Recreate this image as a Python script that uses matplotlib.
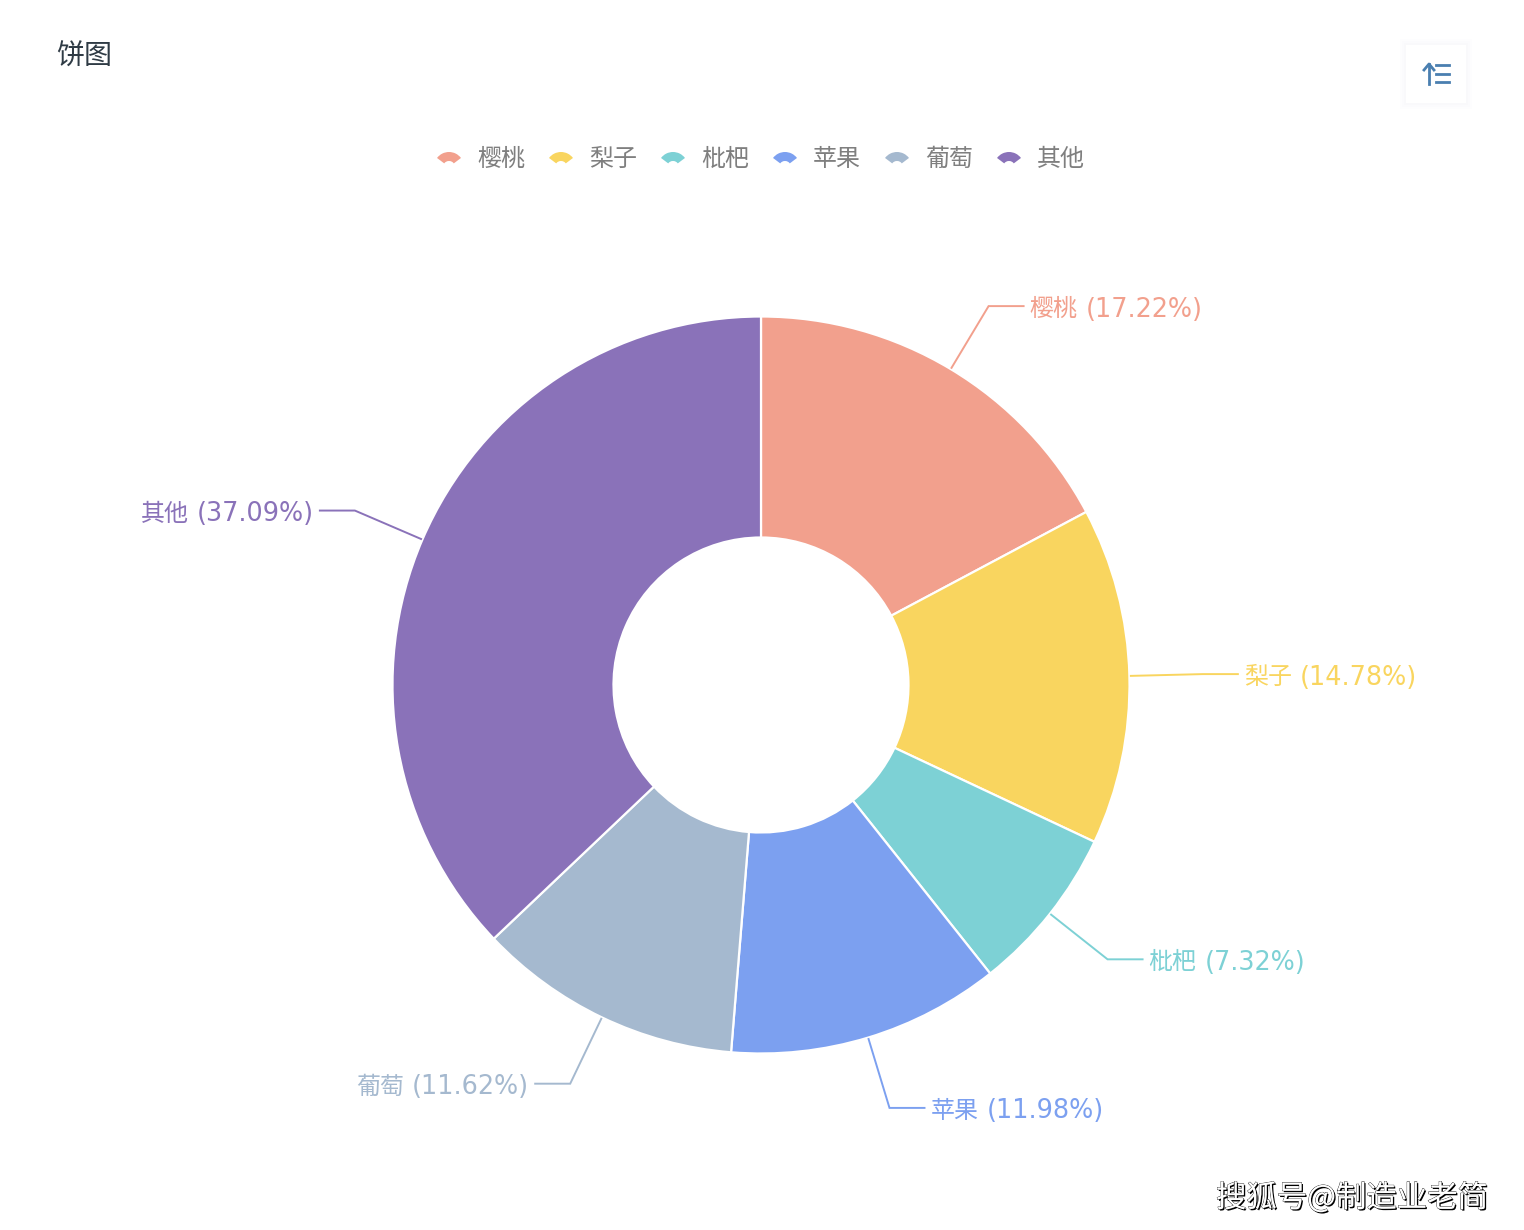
import numpy as np
import matplotlib
matplotlib.use("Agg")
import matplotlib.pyplot as plt
import matplotlib.patheffects as pe
from matplotlib.patches import Rectangle, Wedge

names = ["樱桃", "梨子", "枇杷", "苹果", "葡萄", "其他"]
shares = [17.22, 14.78, 7.32, 11.98, 11.62, 37.09]
colors = ["#f2a08d", "#f9d55f", "#7dd1d5", "#7ca0f0", "#a5b9cf", "#8a72b9"]

W, H = 1524, 1230
CJK = ["Noto Sans CJK SC"]
plt.rcParams["font.family"] = ["DejaVu Sans", "Noto Sans CJK SC"]
PX = 72 / 100  # pt per pixel at dpi 100


def y_(py):
	return H - py


fig = plt.figure(figsize=(W / 100, H / 100), dpi=100)
ax = fig.add_axes([0, 0, 1, 1])
ax.set_xlim(0, W)
ax.set_ylim(0, H)

cx, cy, r_out, r_in = 761, 685, 368.5, 147.5
ax.pie(shares, colors=colors, startangle=90, counterclock=False,
	center=(cx, y_(cy)), radius=r_out,
	wedgeprops={"width": r_out - r_in, "edgecolor": "white", "linewidth": 1.6})
ax.set_xlim(0, W)
ax.set_ylim(0, H)
ax.set_aspect("equal")
ax.set_axis_off()

# leader lines and labels, placed from each slice's middle angle
renderer = fig.canvas.get_renderer()
total = sum(shares)
done = 0
for name, share, color in zip(names, shares, colors):
	mid = np.radians((done + share / 2) / total * 360)
	done += share
	dx, dy = np.sin(mid), np.cos(mid)
	side = 1 if dx > 0 else -1
	x1, y1 = cx + 370 * dx, y_(cy) + 370 * dy
	x2, y2 = cx + 442 * dx, y_(cy) + 442 * dy
	x3 = x2 + side * 35
	ax.plot([x1, x2, x3], [y1, y2, y2], color=color, lw=1.4, solid_joinstyle="miter")
	# the percent part runs wider than the names, so it is set on its own
	pct = f"({share:.2f}%)"
	if side > 0:
		t = ax.text(x3 + 6, y2 - 3.5, name, color=color, fontsize=24 * PX,
			va="center", ha="left", family=CJK)
		edge = t.get_window_extent(renderer).x1
		ax.text(edge + 8, y2 - 3.5, pct, color=color, fontsize=25.5 * PX, va="center", ha="left")
	else:
		t = ax.text(x3 - 6, y2 - 3.5, pct, color=color, fontsize=25.5 * PX,
			va="center", ha="right")
		edge = t.get_window_extent(renderer).x0
		ax.text(edge - 8, y2 - 3.5, name, color=color, fontsize=24 * PX,
			va="center", ha="right", family=CJK)

ax.text(56, y_(57), "饼图", color="#2f3b45", fontsize=28 * PX, va="center", ha="left", family=CJK)

# legend
for i, (name, color) in enumerate(zip(names, colors)):
	x = 449 + i * 112
	ax.add_patch(Wedge((x, y_(167)), 15, 37, 143, width=9, facecolor=color, edgecolor="none"))
	ax.text(x + 28, y_(159), name, color="#7f7f7f", fontsize=24 * PX, va="center", ha="left",
		family=CJK)

# toolbox button
for grow, alpha in [(6, 0.006), (4, 0.008), (2, 0.012)]:
	ax.add_patch(Rectangle((1406 - grow, y_(103) - grow), 60 + 2 * grow, 58 + 2 * grow,
		facecolor="#5a6a9a", alpha=alpha, edgecolor="none"))
ax.add_patch(Rectangle((1406, y_(103)), 60, 58, facecolor="white", edgecolor="none"))
icon = "#4a7fb0"
ax.plot([1429, 1429], [y_(64), y_(84)], color=icon, lw=2)
ax.plot([1424, 1429, 1434], [y_(70), y_(64), y_(70)], color=icon, lw=2)
for py in [65, 73.5, 82]:
	ax.plot([1436, 1449], [y_(py), y_(py)], color=icon, lw=2)

# watermark
ax.text(1216, y_(1198), "搜狐号@制造业老简", color="white", fontsize=30.4 * PX, va="center", ha="left",
	family=CJK, path_effects=[
		pe.withSimplePatchShadow(offset=(1, -1), shadow_rgbFace="black", alpha=1),
		pe.Stroke(linewidth=0.5, foreground="black"), pe.Normal()])

fig.savefig("out.png", dpi=100, facecolor="white")
